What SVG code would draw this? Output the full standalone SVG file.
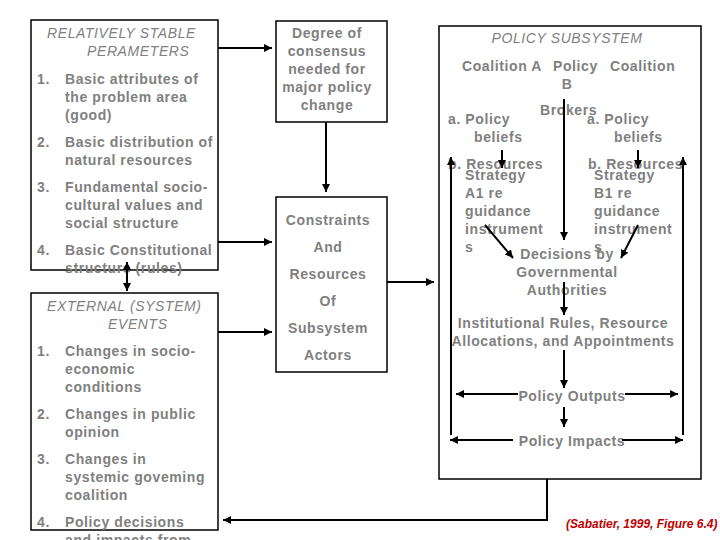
<svg xmlns="http://www.w3.org/2000/svg" width="720" height="540" viewBox="0 0 720 540">
<style>
.box{fill:#fff;stroke:#000;stroke-width:1.5}
.t{font-family:"Liberation Sans",Arial,sans-serif;font-size:14px;font-weight:bold;fill:#808080;letter-spacing:0.6px}
.h{font-family:"Liberation Sans",Arial,sans-serif;font-size:14px;font-style:italic;fill:#808080;letter-spacing:0.6px}
.c{text-anchor:middle}
.ln{fill:none;stroke:#000;stroke-width:2}
.cite{font-family:"Liberation Sans",Arial,sans-serif;font-size:12px;font-weight:bold;font-style:italic;fill:#c00000}
</style>
<defs>
<marker id="ah" markerUnits="userSpaceOnUse" markerWidth="9" markerHeight="9" refX="8" refY="4.5" orient="auto-start-reverse">
<path d="M0,0.5 L8,4.5 L0,8.5 Z" fill="#000"/>
</marker>
</defs>
<rect width="720" height="540" fill="#fff"/>
<g id="stable-parameters">
<rect class="box" x="31" y="20" width="187" height="250"/>
<text class="h" x="47" y="38">RELATIVELY STABLE</text>
<text class="h" x="87" y="56">PERAMETERS</text>
<text class="t" x="37" y="84">1.</text>
<text class="t" x="65" y="84">Basic attributes of</text>
<text class="t" x="65" y="102">the problem area</text>
<text class="t" x="65" y="120">(good)</text>
<text class="t" x="37" y="147">2.</text>
<text class="t" x="65" y="147">Basic distribution of</text>
<text class="t" x="65" y="165">natural resources</text>
<text class="t" x="37" y="192">3.</text>
<text class="t" x="65" y="192">Fundamental socio-</text>
<text class="t" x="65" y="210">cultural values and</text>
<text class="t" x="65" y="228">social structure</text>
<text class="t" x="37" y="255">4.</text>
<text class="t" x="65" y="255">Basic Constitutional</text>
<text class="t" x="65" y="273">structure (rules)</text>
</g>
<g id="external-events">
<rect class="box" x="31" y="293" width="187" height="237"/>
<text class="h" x="47" y="311">EXTERNAL (SYSTEM)</text>
<text class="h" x="108" y="329">EVENTS</text>
<text class="t" x="37" y="356">1.</text>
<text class="t" x="65" y="356">Changes in socio-</text>
<text class="t" x="65" y="374">economic</text>
<text class="t" x="65" y="392">conditions</text>
<text class="t" x="37" y="419">2.</text>
<text class="t" x="65" y="419">Changes in public</text>
<text class="t" x="65" y="437">opinion</text>
<text class="t" x="37" y="464">3.</text>
<text class="t" x="65" y="464">Changes in</text>
<text class="t" x="65" y="482">systemic goveming</text>
<text class="t" x="65" y="500">coalition</text>
<text class="t" x="37" y="527">4.</text>
<text class="t" x="65" y="527">Policy decisions</text>
<text class="t" x="65" y="545">and impacts from</text>
</g>
<g id="consensus">
<rect class="box" x="276" y="21" width="111" height="101"/>
<text class="t c" x="327" y="38">Degree of</text>
<text class="t c" x="327" y="56">consensus</text>
<text class="t c" x="327" y="74">needed for</text>
<text class="t c" x="327" y="92">major policy</text>
<text class="t c" x="327" y="110">change</text>
</g>
<g id="constraints">
<rect class="box" x="276" y="197" width="111" height="175"/>
<text class="t c" x="328" y="225">Constraints</text>
<text class="t c" x="328" y="252">And</text>
<text class="t c" x="328" y="279">Resources</text>
<text class="t c" x="328" y="306">Of</text>
<text class="t c" x="328" y="333">Subsystem</text>
<text class="t c" x="328" y="360">Actors</text>
</g>
<g id="policy-subsystem">
<rect class="box" x="439" y="26" width="262" height="453"/>
<text class="h c" x="567" y="43">POLICY SUBSYSTEM</text>
<text class="t" x="462" y="71">Coalition A</text>
<text class="t" x="553" y="71">Policy</text>
<text class="t" x="610" y="71">Coalition</text>
<text class="t c" x="567" y="89">B</text>
<text class="t" x="540" y="115">Brokers</text>
<text class="t" x="448" y="124">a. Policy</text>
<text class="t" x="474" y="142">beliefs</text>
<text class="t" x="587" y="124">a. Policy</text>
<text class="t" x="614" y="142">beliefs</text>
<text class="t" x="448" y="169">b. Resources</text>
<text class="t" x="588" y="169">b. Resources</text>
<text class="t" x="465" y="180">Strategy</text>
<text class="t" x="465" y="198">A1 re</text>
<text class="t" x="465" y="216">guidance</text>
<text class="t" x="465" y="234">instrument</text>
<text class="t" x="465" y="252">s</text>
<text class="t" x="594" y="180">Strategy</text>
<text class="t" x="594" y="198">B1 re</text>
<text class="t" x="594" y="216">guidance</text>
<text class="t" x="594" y="234">instrument</text>
<text class="t" x="594" y="252">s</text>
<text class="t c" x="567" y="259">Decisions by</text>
<text class="t c" x="567" y="277">Governmental</text>
<text class="t c" x="567" y="295">Authorities</text>
<text class="t c" x="563" y="328">Institutional Rules, Resource</text>
<text class="t c" x="563" y="346">Allocations, and Appointments</text>
<text class="t c" x="572" y="401">Policy Outputs</text>
<text class="t c" x="572" y="446">Policy Impacts</text>
</g>
<g id="connectors">
<line class="ln" x1="218" y1="48" x2="272" y2="48" marker-end="url(#ah)"/>
<line class="ln" x1="218" y1="242" x2="272" y2="242" marker-end="url(#ah)"/>
<line class="ln" x1="218" y1="332" x2="272" y2="332" marker-end="url(#ah)"/>
<line class="ln" x1="127" y1="262" x2="127" y2="291" marker-start="url(#ah)" marker-end="url(#ah)"/>
<line class="ln" x1="326" y1="122" x2="326" y2="192" marker-end="url(#ah)"/>
<line class="ln" x1="387" y1="282" x2="434" y2="282" marker-end="url(#ah)"/>
<path class="ln" d="M547,479 V520 H223" marker-end="url(#ah)"/>
<line class="ln" x1="451" y1="435" x2="451" y2="157" marker-end="url(#ah)"/>
<line class="ln" x1="683" y1="435" x2="683" y2="157" marker-end="url(#ah)"/>
<line class="ln" x1="564" y1="99" x2="564" y2="240" marker-end="url(#ah)"/>
<line class="ln" x1="502" y1="150" x2="502" y2="168" marker-end="url(#ah)"/>
<line class="ln" x1="638" y1="150" x2="638" y2="168" marker-end="url(#ah)"/>
<line class="ln" x1="485" y1="225" x2="513" y2="258" marker-end="url(#ah)"/>
<line class="ln" x1="638" y1="225" x2="621" y2="258" marker-end="url(#ah)"/>
<line class="ln" x1="564" y1="282" x2="564" y2="315" marker-end="url(#ah)"/>
<line class="ln" x1="564" y1="350" x2="564" y2="388" marker-end="url(#ah)"/>
<line class="ln" x1="564" y1="407" x2="564" y2="427" marker-end="url(#ah)"/>
<line class="ln" x1="518" y1="394" x2="456" y2="394" marker-end="url(#ah)"/>
<line class="ln" x1="625" y1="394" x2="678" y2="394" marker-end="url(#ah)"/>
<line class="ln" x1="513" y1="440" x2="450" y2="440" marker-end="url(#ah)"/>
<line class="ln" x1="622" y1="440" x2="683" y2="440" marker-end="url(#ah)"/>
</g>
<text class="cite" x="566" y="528">(Sabatier, 1999, Figure 6.4)</text>
</svg>
